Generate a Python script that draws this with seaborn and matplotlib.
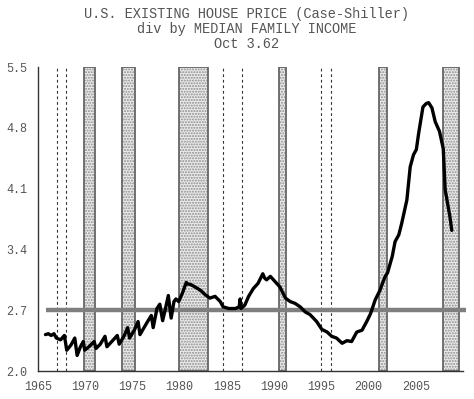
import matplotlib
matplotlib.use("Agg")
import matplotlib.pyplot as plt
import seaborn as sns

# House price / median family income ratio
years = [1965.8, 1966.1, 1966.4, 1966.7, 1966.95, 1967.4, 1967.8, 1968.05, 1968.5, 1968.9,
         1969.15, 1969.5, 1969.8, 1969.95, 1970.5, 1970.95, 1971.15, 1971.6, 1972.1, 1972.3,
         1972.9, 1973.4, 1973.6, 1974.1, 1974.5, 1974.7, 1975.2, 1975.6, 1975.8, 1976.5,
         1977.0, 1977.2, 1977.6, 1977.9, 1978.2, 1978.5, 1978.8, 1979.1, 1979.4, 1979.6,
         1979.9, 1980.3, 1980.7, 1980.9, 1981.1, 1981.6, 1982.2, 1982.7, 1983.2, 1983.75,
         1984.3, 1984.6, 1985.2, 1985.9, 1986.3, 1986.4, 1986.5, 1986.9, 1987.3, 1987.8,
         1988.3, 1988.8, 1989.0, 1989.2, 1989.6, 1990.1, 1990.6, 1991.2, 1991.7, 1992.2,
         1992.75, 1993.3, 1993.8, 1994.5, 1995.05, 1995.6, 1996.1, 1996.6, 1997.2, 1997.7,
         1998.2, 1998.75, 1999.3, 1999.8, 2000.2, 2000.7, 2001.2, 2001.75, 2002.0, 2002.5,
         2002.8, 2003.2, 2003.5, 2004.05, 2004.4, 2004.75, 2005.05, 2005.3, 2005.75, 2006.1,
         2006.35, 2006.7, 2007.05, 2007.5, 2007.9, 2008.1, 2008.6, 2008.8]
ratio = [2.42, 2.43, 2.41, 2.43, 2.38, 2.36, 2.41, 2.24, 2.30, 2.38,
         2.18, 2.28, 2.34, 2.24, 2.29, 2.34, 2.26, 2.31, 2.40, 2.28,
         2.35, 2.41, 2.31, 2.40, 2.50, 2.38, 2.47, 2.57, 2.42, 2.55,
         2.64, 2.50, 2.72, 2.77, 2.58, 2.72, 2.87, 2.61, 2.80, 2.83,
         2.80, 2.90, 3.02, 3.00, 3.00, 2.97, 2.93, 2.88, 2.84, 2.86,
         2.80, 2.74, 2.72, 2.72, 2.74, 2.83, 2.72, 2.76, 2.86, 2.95,
         3.01, 3.12, 3.07, 3.05, 3.09, 3.03, 2.97, 2.84, 2.80, 2.78,
         2.74, 2.68, 2.65, 2.57, 2.48, 2.45, 2.40, 2.38, 2.32, 2.35,
         2.34, 2.45, 2.47, 2.57, 2.66, 2.82, 2.93, 3.09, 3.13, 3.32,
         3.49, 3.57, 3.70, 3.97, 4.35, 4.49, 4.55, 4.74, 5.04, 5.08,
         5.09, 5.03, 4.87, 4.76, 4.56, 4.09, 3.78, 3.62]

# recession bands (start, end) and dashed marker years
recessions = [(1969.85, 1971.0), (1973.85, 1975.3), (1979.9, 1983.0),
              (1990.5, 1991.25), (2001.1, 2001.95), (2007.9, 2009.6)]
dashed_years = [1967.0, 1968.0, 1984.6, 1986.6, 1995.0, 1996.0]
average = 2.7

x_ticks = [1965, 1970, 1975, 1980, 1985, 1990, 1995, 2000, 2005, 2010]
x_labels = ["1965", "1970", "1975", "1980", "1985", "1990", "1995", "2000", "2005", ""]
y_ticks = [2.0, 2.7, 3.4, 4.1, 4.8, 5.5]

sns.set_style("white")
plt.rcParams["font.family"] = ["Liberation Mono", "DejaVu Sans Mono"]
plt.rcParams["hatch.linewidth"] = 1.0

fig = plt.figure(figsize=(4.74, 3.99), dpi=100)
ax = fig.add_axes([0.080, 0.070, 0.897, 0.762])

# shaded recession bars: dotted fill plus a darker outline
for start, end in recessions:
    ax.axvspan(start, end, facecolor="#ececec", edgecolor="#8c8c8c", hatch="......",
               linewidth=0, zorder=1)
    ax.axvspan(start, end, fill=False, edgecolor="#666666", linewidth=1.3, zorder=1.5)

for yr in dashed_years:
    ax.axvline(yr, color="#333333", linestyle=(0, (2.5, 2.5)), linewidth=0.8, zorder=1)

ax.plot([1965.85, 2010.3], [average, average], color="#7f7f7f", linewidth=3.2,
        solid_capstyle="butt", zorder=2, clip_on=False)

sns.lineplot(x=years, y=ratio, ax=ax, color="black", linewidth=2.4, zorder=3)

ax.set_xlim(1965, 2010)
ax.set_ylim(2.0, 5.5)
ax.set_xticks(x_ticks)
ax.set_xticklabels(x_labels)
ax.set_yticks(y_ticks)
ax.set_yticklabels([f"{v:.1f}" for v in y_ticks])
ax.tick_params(axis="both", direction="inout", length=11, width=1, color="#333333",
               labelsize=8.5, labelcolor="#555555", pad=2)
ax.set_xlabel("")
ax.set_ylabel("")

for side in ["top", "right"]:
    ax.spines[side].set_visible(False)
for side in ["left", "bottom"]:
    ax.spines[side].set_color("#333333")
    ax.spines[side].set_linewidth(1)

title_lines = ["U.S. EXISTING HOUSE PRICE (Case-Shiller)",
               "div by MEDIAN FAMILY INCOME",
               "Oct 3.62"]
for i, line in enumerate(title_lines):
    fig.text(0.52, 0.965 - i * 0.038, line, ha="center", va="center",
             fontsize=9.8, color="#555555")

fig.savefig("out.png", dpi=100)
